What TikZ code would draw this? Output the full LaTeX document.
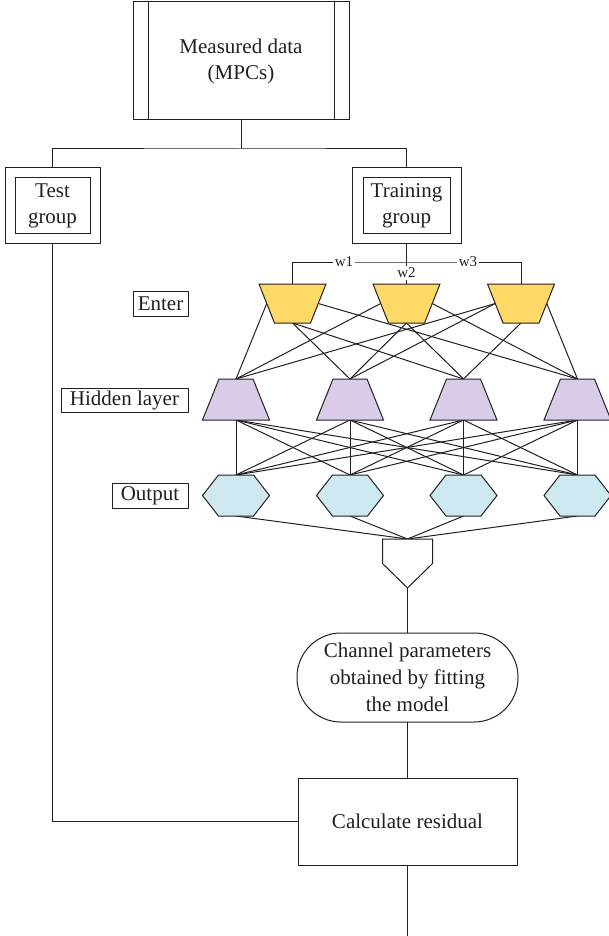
\documentclass[tikz,border=0pt]{standalone}
\usepackage{fontspec}
\setmainfont{Liberation Serif}
\usetikzlibrary{calc}
\definecolor{ink}{HTML}{231F20}
\definecolor{yel}{HTML}{FFD966}
\definecolor{lav}{HTML}{D9CCE8}
\definecolor{lblue}{HTML}{CDE8F1}
\tikzset{
  frame/.style={rectangle, draw=none, inner sep=0pt, outer sep=0pt},
  box/.style={rectangle, draw, fill=white, inner sep=0pt, outer sep=0pt, align=center,
    font=\fontsize{21}{26}\selectfont},
  wlab/.style={fill=white, inner sep=1.5pt, font=\fontsize{15}{17}\selectfont},
  yshape/.style={fill=yel, line join=miter},
  hshape/.style={fill=lav, line join=miter},
  oshape/.style={fill=lblue, line join=miter},
}
\begin{document}
\begin{tikzpicture}[x=1pt, y=-1pt, line width=1pt, color=ink]
\useasboundingbox (0,0) rectangle (609,936);

% top boxes
\node[box, minimum width=216, minimum height=118] (meas) at (241,61) {Measured data\\(MPCs)};
\draw ($(meas.north west)+(15,0)$) -- ($(meas.south west)+(15,0)$);
\draw ($(meas.north east)+(-15,0)$) -- ($(meas.south east)+(-15,0)$);

\node[box, minimum width=95, minimum height=75] (test) at (52.5,205.5) {Test\\group};
\draw ($(test.north west)+(10,10)$) rectangle ($(test.south east)+(-10,-10)$);

\node[box, minimum width=109, minimum height=75] (train) at (406.5,205.5) {Training\\group};
\draw ($(train.north west)+(11,10)$) rectangle ($(train.south east)+(-11,-10)$);

\coordinate (split) at (241,149);
\draw (meas.south) -- (split);
\draw (test.north) |- (split) -| (train.north);

% layer labels
\node[box, minimum width=55, minimum height=25] (enter) at (160.5,303.5) {Enter};
\node[box, minimum width=127, minimum height=24] (hidlab) at (124.5,400) {Hidden layer};
\node[box, minimum width=76, minimum height=25] (outlab) at (150,495.5) {Output};

% network node frames
\foreach \i/\x in {1/292.5, 2/406.5, 3/521} {
  \node[frame, minimum width=67, minimum height=39] (y\i) at (\x,303.5) {};
  \coordinate (y\i l) at ($(y\i.west)+(7.75,0)$);
  \coordinate (y\i r) at ($(y\i.east)+(-7.75,0)$);
}
\foreach \i/\x in {1/236, 2/350, 3/463.5, 4/577.5} {
  \node[frame, minimum width=67, minimum height=41] (h\i) at (\x,399.5) {};
  \node[frame, minimum width=67, minimum height=41] (o\i) at (\x,495.5) {};
}
\node[frame, minimum width=50, minimum height=49] (merge) at (407.5,563.5) {};

% weights
\coordinate (wsplit) at (406.5,262);
\draw (train.south) -- (y2.north);
\draw (y1.north) |- (wsplit) -| (y3.north);
\node[wlab] (w1) at (344,262) {w1};
\node[wlab] (w3) at (468,262) {w3};
\node[wlab] (w2) at (406.5,273) {w2};

% connections enter -> hidden
\foreach \a/\b in {y1l/h1, y1.south/h2, y1.south/h3, y1r/h4,
                   y2l/h1, y2.south/h2, y2.south/h3, y2r/h4,
                   y3l/h1, y3l/h2, y3.south/h3, y3r/h4}
  \draw (\a) -- (\b.north);
% hidden -> output
\foreach \i in {1,...,4}
  \foreach \j in {1,...,4}
    \draw (h\i.south) -- (o\j.north);
% output -> merge
\foreach \j in {1,...,4}
  \draw (o\j.south) -- (merge.north);

% shapes
\foreach \i in {1,2,3}
  \filldraw[yshape] (y\i.north west) -- (y\i.north east) -- ($(y\i.south east)+(-15.5,0)$)
     -- ($(y\i.south west)+(15.5,0)$) -- cycle;
\foreach \i in {1,...,4} {
  \filldraw[hshape] (h\i.south west) -- (h\i.south east) -- ($(h\i.north east)+(-16.5,0)$)
     -- ($(h\i.north west)+(16.5,0)$) -- cycle;
  \filldraw[oshape] (o\i.west) -- ($(o\i.north west)+(16,0)$) -- ($(o\i.north east)+(-16,0)$)
     -- (o\i.east) -- ($(o\i.south east)+(-16,0)$) -- ($(o\i.south west)+(16,0)$) -- cycle;
}
\filldraw[fill=white, line join=miter] (merge.north west) -- (merge.north east) -- (merge.east)
   -- (merge.south) -- (merge.west) -- cycle;

% lower part
\node[box, rounded corners=44, minimum width=221, minimum height=89,
      font=\fontsize{21}{27}\selectfont] (ch) at (407.5,677.5)
      {Channel parameters\\obtained by fitting\\the model};
\node[box, minimum width=219, minimum height=87] (res) at (407.5,821.5) {Calculate residual};
\draw (merge.south) -- (ch.north);
\draw (ch.south) -- (res.north);
\draw (test.south) |- (res.west);
\coordinate (end) at (407.5,936);
\draw (res.south) -- (end);
\end{tikzpicture}
\end{document}
